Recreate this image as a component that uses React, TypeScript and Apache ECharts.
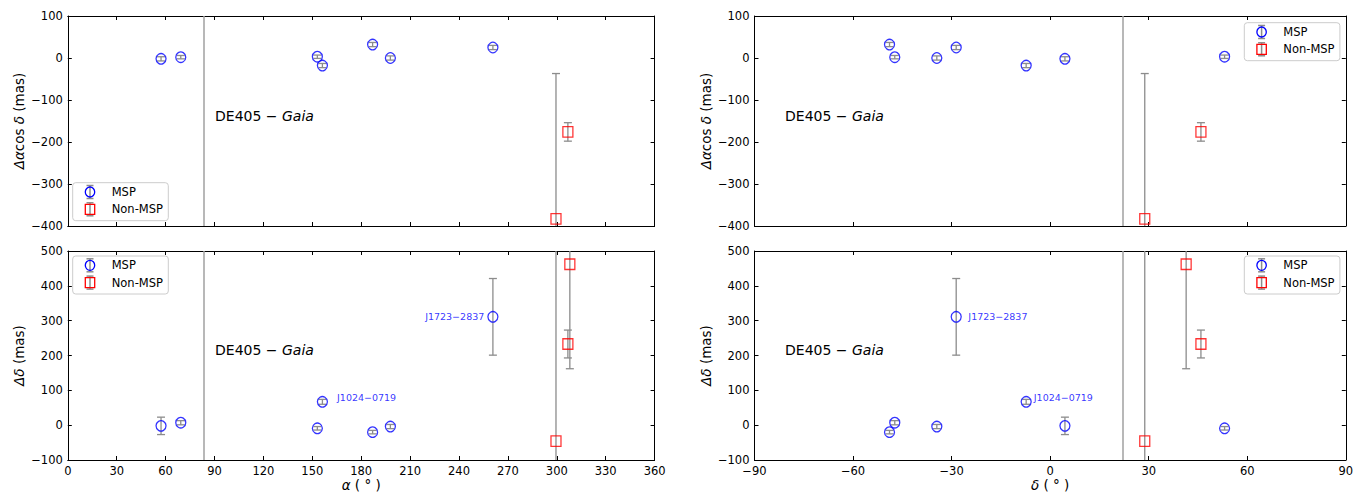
import React, { useEffect, useRef } from 'react';
import * as echarts from 'echarts';

// ---- Data ----
const mspNames = ['J0348+0432', 'J0437−4715', 'J1012+5307', 'J1024−0719', 'J1227−4853', 'J1311−3430', 'J1723−2837'];
const mspRA = [57.2, 69.3, 153.1, 156.2, 187.0, 197.9, 260.8];
const mspDec = [4.5, -47.3, 53.1, -7.3, -48.9, -34.5, -28.6];
const mspDRA = [-2, 2, 3, -18, 32, 0, 25];
const mspDRAErr = [5, 4, 4, 5, 5, 5, 5];
const mspDDec = [-2, 7, -9, 67, -20, -4, 311];
const mspDDecErr = [25, 6, 5, 7, 5, 6, 110];

const nonRA = [299.5, 306.8, 308.0];
const nonDec = [28.8, 45.9, 41.4];
const nonDRA: (number | null)[] = [-383, -176, null];
const nonDRAErr: (number | null)[] = [346, 22, null];
const nonDDec = [-46, 233, 462];
const nonDDecErr = [700, 40, 300];

const crabRA = 83.63;
const crabDec = 22.01;

const raTicks = { min: 0, max: 360, interval: 30 };
const decTicks = { min: -90, max: 90, interval: 30 };
const draTicks = { min: -400, max: 100, interval: 100 };
const ddecTicks = { min: -100, max: 500, interval: 100 };

const labelled = ['J1723−2837', 'J1024−0719'];

// ---- Styles ----
const FONT = 'DejaVu Sans';
const ERR_COLOR = '#8c8c8c';
const CRAB_COLOR = '#a0a0a0';
const BLUE = '#0000ff';
const RED = '#ff0000';

const minus = (v: number) => String(v).replace('-', '−');

const grids = [
  { left: 67.8, top: 16, width: 586.8, height: 210 },
  { left: 67.8, top: 251, width: 586.8, height: 210 },
  { left: 754.5, top: 16, width: 591.3, height: 210 },
  { left: 754.5, top: 251, width: 591.3, height: 210 },
];

const axisCommon = {
  type: 'value',
  axisLine: { show: true, onZero: false, lineStyle: { color: '#000', width: 1 } },
  axisTick: { show: true, inside: true, length: 4, lineStyle: { color: '#000', width: 1 } },
  splitLine: { show: false },
  axisLabel: { color: '#000', fontSize: 11.5, fontFamily: FONT, margin: 5, formatter: minus },
};

function errRender(params: any, api: any) {
  const x = api.value(0);
  const lo = api.value(1);
  const hi = api.value(2);
  const p1 = api.coord([x, lo]);
  const p2 = api.coord([x, hi]);
  const cap = 4;
  const style = { stroke: ERR_COLOR, lineWidth: 1.3, fill: null };
  return {
    type: 'group',
    children: [
      { type: 'line', shape: { x1: p1[0], y1: p1[1], x2: p2[0], y2: p2[1] }, style },
      { type: 'line', shape: { x1: p1[0] - cap, y1: p1[1], x2: p1[0] + cap, y2: p1[1] }, style },
      { type: 'line', shape: { x1: p2[0] - cap, y1: p2[1], x2: p2[0] + cap, y2: p2[1] }, style },
    ],
  };
}

function legendGraphic(x0: number, y0: number) {
  const cx = x0 + 17.3;
  const y1 = y0 + 9.3;
  const y2 = y0 + 26.6;
  const ls = { stroke: ERR_COLOR, lineWidth: 1.5 };
  const bar = (cy: number) => [
    { type: 'line', shape: { x1: cx, y1: cy - 6.5, x2: cx, y2: cy + 6.5 }, style: ls },
    { type: 'line', shape: { x1: cx - 3.5, y1: cy - 6.5, x2: cx + 3.5, y2: cy - 6.5 }, style: ls },
    { type: 'line', shape: { x1: cx - 3.5, y1: cy + 6.5, x2: cx + 3.5, y2: cy + 6.5 }, style: ls },
  ];
  return {
    type: 'group',
    children: [
      { type: 'rect', shape: { x: x0, y: y0, width: 95.6, height: 38, r: 3 }, style: { fill: 'rgba(255,255,255,0.8)', stroke: '#cccccc', lineWidth: 1 } },
      ...bar(y1),
      { type: 'ellipse', shape: { cx, cy: y1, rx: 4.7, ry: 5 }, style: { fill: 'none', stroke: BLUE, lineWidth: 1.3 } },
      { type: 'text', x: x0 + 39, y: y1, style: { text: 'MSP', fontSize: 11.5, fontFamily: FONT, fill: '#000', verticalAlign: 'middle' } },
      ...bar(y2),
      { type: 'rect', shape: { x: cx - 4.7, y: y2 - 5, width: 9.4, height: 10 }, style: { fill: 'none', stroke: RED, lineWidth: 1.3 } },
      { type: 'text', x: x0 + 39, y: y2, style: { text: 'Non-MSP', fontSize: 11.5, fontFamily: FONT, fill: '#000', verticalAlign: 'middle' } },
    ],
  };
}

function deText(x: number, y: number) {
  return {
    type: 'text',
    x,
    y,
    style: {
      text: '{n|DE405 − }{i|Gaia}',
      verticalAlign: 'middle',
      rich: {
        n: { fontSize: 14, fontFamily: FONT, fill: '#000', color: '#000' },
        i: { fontSize: 14, fontFamily: FONT, fontStyle: 'italic', fill: '#000', color: '#000' },
      },
    },
  };
}

function buildOption() {
  const panels = [
    { xs: mspRA, ys: mspDRA, ye: mspDRAErr, nxs: nonRA, nys: nonDRA, nye: nonDRAErr, crab: crabRA, labels: null as any },
    {
      xs: mspRA, ys: mspDDec, ye: mspDDecErr, nxs: nonRA, nys: nonDDec as (number | null)[], nye: nonDDecErr as (number | null)[], crab: crabRA,
      labels: {
        'J1723−2837': { position: 'left', distance: 3, offset: [0, 0] },
        'J1024−0719': { position: 'right', distance: 9, offset: [0, -4.5] },
      },
    },
    { xs: mspDec, ys: mspDRA, ye: mspDRAErr, nxs: nonDec, nys: nonDRA, nye: nonDRAErr, crab: crabDec, labels: null as any },
    {
      xs: mspDec, ys: mspDDec, ye: mspDDecErr, nxs: nonDec, nys: nonDDec as (number | null)[], nye: nonDDecErr as (number | null)[], crab: crabDec,
      labels: {
        'J1723−2837': { position: 'right', distance: 6.5, offset: [0, 0] },
        'J1024−0719': { position: 'right', distance: 2, offset: [0, -4] },
      },
    },
  ];

  const xAxis: any[] = [];
  const yAxis: any[] = [];
  const xTick = [raTicks, raTicks, decTicks, decTicks];
  const yTick = [draTicks, ddecTicks, draTicks, ddecTicks];
  const yNames = ['{i|Δα}cos {i|δ} (mas)', '{i|Δδ} (mas)', '{i|Δα}cos {i|δ} (mas)', '{i|Δδ} (mas)'];
  const xNames = ['', '{i|α} ( ° )', '', '{i|δ} ( ° )'];
  const nameRich = {
    i: { fontSize: 13.5, fontFamily: FONT, fontStyle: 'italic', color: '#000' },
  };
  for (let g = 0; g < 4; g++) {
    const showX = g === 1 || g === 3;
    xAxis.push({
      ...axisCommon, gridIndex: g, position: 'bottom', ...xTick[g],
      axisLabel: { ...axisCommon.axisLabel, show: showX },
      name: xNames[g], nameLocation: 'middle', nameGap: 18,
      nameTextStyle: { fontSize: 13.5, fontFamily: FONT, color: '#000', rich: nameRich },
    });
    yAxis.push({
      ...axisCommon, gridIndex: g, position: 'left', ...yTick[g],
      name: yNames[g], nameLocation: 'middle', nameGap: 42, nameRotate: 90,
      nameTextStyle: { fontSize: 13.5, fontFamily: FONT, color: '#000', rich: nameRich },
    });
  }
  for (let g = 0; g < 4; g++) {
    xAxis.push({ ...axisCommon, gridIndex: g, position: 'top', ...xTick[g], axisLabel: { show: false } });
    yAxis.push({ ...axisCommon, gridIndex: g, position: 'right', ...yTick[g], axisLabel: { show: false } });
  }

  const series: any[] = [];
  panels.forEach((p, g) => {
    const mspErr = p.xs.map((x, i) => [x, p.ys[i] - p.ye[i], p.ys[i] + p.ye[i]]);
    const nonErr: number[][] = [];
    p.nxs.forEach((x, i) => {
      const y = p.nys[i];
      const e = p.nye[i];
      if (y != null && e != null) nonErr.push([x, y - e, y + e]);
    });
    series.push({
      type: 'custom', name: 'err' + g, xAxisIndex: g, yAxisIndex: g, clip: true, silent: true,
      renderItem: errRender, data: [...mspErr, ...nonErr], z: 2,
      markLine: {
        silent: true, symbol: 'none', label: { show: false },
        lineStyle: { color: CRAB_COLOR, width: 1.5, type: 'solid' },
        data: [{ xAxis: p.crab }],
      },
    });
    const mspData = p.xs.map((x, i) => {
      const item: any = { value: [x, p.ys[i]], name: mspNames[i] };
      if (p.labels && labelled.includes(mspNames[i]) && p.labels[mspNames[i]]) {
        const l = p.labels[mspNames[i]];
        item.label = {
          show: true, formatter: mspNames[i], position: l.position, distance: l.distance, offset: l.offset,
          color: BLUE, fontSize: 9.5, fontFamily: FONT,
        };
      }
      return item;
    });
    series.push({
      type: 'scatter', name: 'MSP', xAxisIndex: g, yAxisIndex: g, symbol: 'circle', symbolSize: [10, 10.5], z: 3,
      itemStyle: { color: 'rgba(0,0,0,0)', borderColor: BLUE, borderWidth: 1.3 },
      label: { show: false }, emphasis: { disabled: true }, data: mspData,
    });
    const nonData: number[][] = [];
    p.nxs.forEach((x, i) => {
      const y = p.nys[i];
      if (y != null) nonData.push([x, y]);
    });
    series.push({
      type: 'scatter', name: 'Non-MSP', xAxisIndex: g, yAxisIndex: g, symbol: 'rect', symbolSize: [10, 10.5], z: 3,
      itemStyle: { color: 'rgba(0,0,0,0)', borderColor: RED, borderWidth: 1.3 },
      emphasis: { disabled: true }, data: nonData,
    });
  });

  return {
    animation: false,
    backgroundColor: '#fff',
    grid: grids,
    xAxis,
    yAxis,
    series,
    graphic: [
      deText(215, 116),
      deText(215, 350),
      deText(785, 116),
      deText(785, 350),
      legendGraphic(72.7, 182.7),
      legendGraphic(72.7, 256),
      legendGraphic(1244.3, 22.7),
      legendGraphic(1244.3, 256),
    ],
  };
}

export default function App() {
  const ref = useRef<HTMLDivElement>(null);
  useEffect(() => {
    if (!ref.current) return;
    const chart = echarts.init(ref.current, null, { renderer: 'svg' });
    chart.setOption(buildOption() as any);
    return () => chart.dispose();
  }, []);
  return <div ref={ref} style={{ position: 'absolute', left: 0, top: 0, width: 1363, height: 493 }} />;
}
